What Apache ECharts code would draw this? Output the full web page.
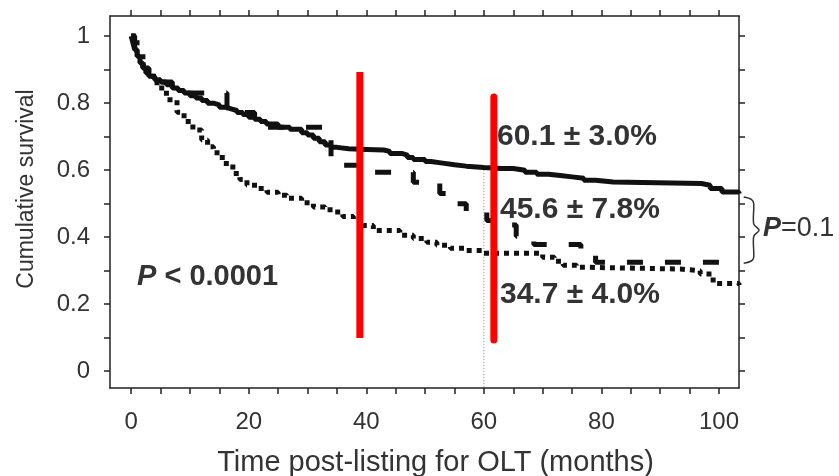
<!DOCTYPE html>
<html>
<head>
<meta charset="utf-8">
<script src="https://cdn.jsdelivr.net/npm/echarts@6/dist/echarts.min.js"></script>
<style>
  html, body { margin: 0; padding: 0; background: #fff; }
  #main { width: 839px; height: 476px; }
</style>
</head>
<body>
<div id="main"></div>
<script>
// Kaplan-Meier steps (months, cumulative survival)
var solidTimes = [0, 0.3, 0.6, 1, 1.5, 2, 2.5, 3, 4, 5, 6, 7, 8, 9, 10, 11, 12, 13, 14, 15, 16, 17, 18, 19, 20, 21, 22, 23, 25, 27, 29, 30, 31, 32, 33, 34, 35, 37, 40, 43, 44, 46, 47, 48, 50, 51, 53, 55, 57, 60, 63, 65, 67, 69, 71, 73, 75, 77, 79, 82, 97, 98.5, 100.5, 103.4];
var solidSurv = [1, 0.98, 0.96, 0.94, 0.92, 0.905, 0.89, 0.88, 0.87, 0.863, 0.855, 0.845, 0.838, 0.83, 0.822, 0.815, 0.808, 0.8, 0.795, 0.788, 0.783, 0.778, 0.772, 0.766, 0.758, 0.752, 0.745, 0.738, 0.728, 0.722, 0.712, 0.705, 0.695, 0.685, 0.675, 0.668, 0.664, 0.662, 0.66, 0.656, 0.65, 0.645, 0.638, 0.632, 0.626, 0.621, 0.616, 0.612, 0.608, 0.605, 0.605, 0.6, 0.594, 0.588, 0.584, 0.58, 0.576, 0.57, 0.565, 0.56, 0.555, 0.545, 0.535, 0.53];

var dashTimes = [0, 0.6, 1, 2, 3, 5, 7, 9, 16.3, 18, 21, 34, 40, 48, 52.5, 54, 57, 60.5, 63, 65.5, 68.5, 76.5, 79, 103.4];
var dashSurv = [1, 0.96, 0.94, 0.905, 0.88, 0.863, 0.845, 0.83, 0.785, 0.772, 0.728, 0.615, 0.594, 0.564, 0.53, 0.5, 0.475, 0.45, 0.436, 0.403, 0.378, 0.352, 0.325, 0.325];

var dotTimes = [0, 1, 2, 3, 4.4, 6, 7.8, 9, 10.5, 12, 13, 14, 15.5, 17.3, 18.5, 19.7, 21.5, 23.1, 25, 26.5, 29, 31, 33, 34.4, 36, 37.8, 39.5, 41.2, 45.7, 48, 50.3, 52, 54.3, 57, 60, 68.4, 70, 72, 73.5, 75.8, 78, 93.4, 96.8, 99, 103.4];
var dotSurv = [1, 0.95, 0.91, 0.88, 0.845, 0.81, 0.773, 0.745, 0.72, 0.69, 0.67, 0.652, 0.62, 0.59, 0.572, 0.555, 0.545, 0.534, 0.525, 0.516, 0.503, 0.49, 0.482, 0.475, 0.462, 0.45, 0.435, 0.42, 0.406, 0.396, 0.385, 0.376, 0.367, 0.36, 0.352, 0.352, 0.34, 0.328, 0.316, 0.31, 0.305, 0.3, 0.29, 0.262, 0.257];

var xLabels = [0, 20, 40, 60, 80, 100];
var xTicks = [0, 5, 10, 15, 20, 25, 30, 35, 40, 45, 50, 55, 60, 65, 70, 75, 80, 85, 90, 95, 100];
var yLabels = [0, 0.2, 0.4, 0.6, 0.8, 1];
var yTicks = [0, 0.1, 0.2, 0.3, 0.4, 0.5, 0.6, 0.7, 0.8, 0.9, 1];

// annotation marks (data coordinates)
var redLine1 = [[38.9, 0.893], [38.9, 0.099]];
var redLine2 = [[61.7, 0.818], [61.7, 0.093]];
var sixtyLine = [[60, 0.6], [60, -0.05]];
var bracket = [[104.2, 0.52], [105.5, 0.513], [105.9, 0.5], [105.9, 0.44], [106.8, 0.421], [105.9, 0.402], [105.9, 0.34], [105.5, 0.329], [104.2, 0.322]];

function pairs(t, s) {
    var out = [];
    for (var i = 0; i < t.length; i++) out.push([t[i], s[i]]);
    return out;
}

var FONT = '"Liberation Sans", Arial, sans-serif';
var TXT = '#333';

var myChart = echarts.init(document.getElementById('main'));

function xAx(pos, showLabel) {
    return {
        type: 'value', position: pos, min: -3.6, max: 103.4,
        axisLine: { show: true, onZero: false, lineStyle: { color: '#222', width: 1.5 } },
        axisTick: { show: true, inside: false, length: 6, customValues: xTicks, lineStyle: { color: '#222', width: 1.5 } },
        axisLabel: { show: showLabel, customValues: xLabels, fontSize: 24, color: TXT, fontFamily: FONT, margin: 22 },
        splitLine: { show: false },
        name: showLabel ? 'Time post-listing for OLT (months)' : '',
        nameLocation: 'middle', nameGap: 60,
        nameTextStyle: { fontSize: 29, color: TXT, fontFamily: FONT, padding: [0, 0, 0, 22] }
    };
}
function yAx(pos, showLabel) {
    return {
        type: 'value', position: pos, min: -0.05, max: 1.06,
        axisLine: { show: true, onZero: false, lineStyle: { color: '#222', width: 1.5 } },
        axisTick: { show: true, inside: false, length: 6, customValues: yTicks, lineStyle: { color: '#222', width: 1.5 } },
        axisLabel: { show: showLabel, customValues: yLabels, fontSize: 24, color: TXT, fontFamily: FONT, margin: 20 },
        splitLine: { show: false },
        name: showLabel ? 'Cumulative survival' : '',
        nameLocation: 'middle', nameGap: 72,
        nameTextStyle: { fontSize: 23, color: TXT, fontFamily: FONT, padding: [0, 0, 0, 26] }
    };
}

myChart.setOption({
    animation: false,
    backgroundColor: '#fff',
    grid: { left: 110, right: 100, top: 16, bottom: 88, outerBoundsMode: 'none' },
    xAxis: [xAx('bottom', true), xAx('top', false)],
    yAxis: [yAx('left', true), yAx('right', false)],
    graphic: [
        { type: 'text', left: 497, top: 122, style: { text: '60.1 ± 3.0%', font: 'bold 30px ' + FONT, fill: TXT } },
        { type: 'text', left: 500, top: 195, style: { text: '45.6 ± 7.8%', font: 'bold 30px ' + FONT, fill: TXT } },
        { type: 'text', left: 500, top: 280, style: { text: '34.7 ± 4.0%', font: 'bold 30px ' + FONT, fill: TXT } },
        { type: 'text', left: 137, top: 262, style: {
            text: '{p|P} < 0.0001', font: 'bold 29px ' + FONT, fill: TXT,
            rich: { p: { fontStyle: 'italic', fontWeight: 'bold', fontSize: 29, fontFamily: FONT, color: TXT } } } },
        { type: 'text', left: 763, top: 215, style: {
            text: '{p|P}=0.1', font: '27px ' + FONT, fill: TXT,
            rich: { p: { fontStyle: 'italic', fontWeight: 'bold', fontSize: 27, fontFamily: FONT, color: TXT } } } }
    ],
    series: [
        {
            type: 'line', data: sixtyLine, symbol: 'none', silent: true,
            lineStyle: { color: '#888', width: 1, type: [1, 2] }
        },
        {
            type: 'line', data: pairs(dotTimes, dotSurv), step: 'end', symbol: 'none',
            lineStyle: { color: '#111', width: 5, type: [5, 5], cap: 'butt' }
        },
        {
            type: 'line', data: pairs(dashTimes, dashSurv), step: 'end', symbol: 'none',
            lineStyle: { color: '#111', width: 5, type: [16, 22], cap: 'butt' }
        },
        {
            type: 'line', data: pairs(solidTimes, solidSurv), step: 'end', symbol: 'none',
            lineStyle: { color: '#111', width: 5 }
        },
        {
            // right-hand bracket beside the plot
            type: 'custom', data: [0], clip: false, silent: true,
            renderItem: function (params, api) {
                return {
                    type: 'polyline',
                    shape: { points: bracket.map(function (p) { return api.coord(p); }), smooth: 0.3 },
                    style: { stroke: '#333', lineWidth: 1.5, fill: 'none' }
                };
            }
        },
        {
            type: 'line', data: redLine1, symbol: 'none', z: 10,
            lineStyle: { color: '#ff0000', width: 7, cap: 'butt' }
        },
        {
            type: 'line', data: redLine2, symbol: 'none', z: 10,
            lineStyle: { color: '#ff0000', width: 7, cap: 'round' }
        }
    ]
});
</script>
</body>
</html>
